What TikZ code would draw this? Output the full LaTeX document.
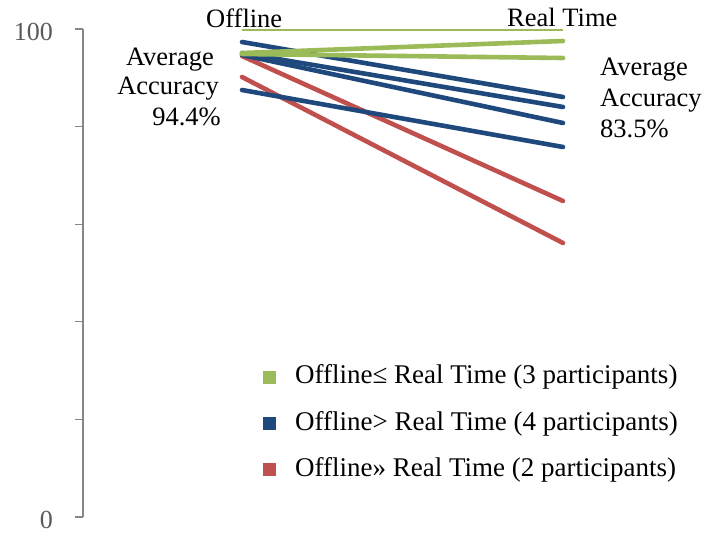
\documentclass[tikz,border=0pt]{standalone}
\usepackage{fontspec}
\setmainfont{Liberation Serif}
\definecolor{cgreen}{HTML}{9BBB59}
\definecolor{cblue}{HTML}{1F497D}
\definecolor{cred}{HTML}{C0504D}
\definecolor{caxis}{HTML}{868686}
\definecolor{ctick}{HTML}{595959}
\begin{document}
\begin{tikzpicture}[x=1pt,y=-1pt,
  txt/.style={inner sep=0pt, font=\fontsize{26.5}{30}\selectfont},
  legtxt/.style={inner sep=0pt, font=\fontsize{27}{30}\selectfont},
  ticklbl/.style={inner sep=0pt, text=ctick, font=\fontsize{26}{30}\selectfont},
  axisline/.style={draw=caxis, line width=1.3pt},
  dline/.style={line width=4.6pt, line cap=round},
  legsq/.style={minimum size=13pt, inner sep=0pt, draw=none}]
\useasboundingbox (0,0) rectangle (702,533);
% axis
\coordinate (atop) at (83,29);
\coordinate (abot) at (83,517);
\draw[axisline] (atop) -- (abot);
\foreach \y in {29,126.6,224.2,321.8,419.4,517}{
  \draw[axisline] (75,\y) -- (83,\y);
}
\node[ticklbl, anchor=base east] (l100) at (53,40) {100};
\node[ticklbl, anchor=base east] (l0) at (53,528) {0};
% headers
\node[txt, anchor=base west] (hoff) at (206,27) {Offline};
\node[txt, anchor=base west] (hrt) at (507,26) {Real Time};
\node[txt, anchor=base east] (la1) at (214,65) {Average};
\node[txt, anchor=base east] (la2) at (219,94) {Accuracy};
\node[txt, anchor=base east] (la3) at (221,125) {94.4\%};
\node[txt, anchor=base west] (ra1) at (600,75) {Average};
\node[txt, anchor=base west] (ra2) at (600,106) {Accuracy};
\node[txt, anchor=base west] (ra3) at (600,137) {83.5\%};
% endpoints
\coordinate (g1s) at (242,30);  \coordinate (g1e) at (563,30);
\coordinate (g2s) at (242,53);  \coordinate (g2e) at (563,41);
\coordinate (g3s) at (242,54);  \coordinate (g3e) at (563,58);
\coordinate (b1s) at (242,42);  \coordinate (b1e) at (563,97);
\coordinate (b2s) at (242,53);  \coordinate (b2e) at (563,107);
\coordinate (b3s) at (242,55);  \coordinate (b3e) at (563,123);
\coordinate (b4s) at (242,90);  \coordinate (b4e) at (563,147);
\coordinate (r1s) at (242,56);  \coordinate (r1e) at (563,201);
\coordinate (r2s) at (242,77);  \coordinate (r2e) at (563,243);
% lines
\draw[dline, cred] (r1s) -- (r1e);
\draw[dline, cred] (r2s) -- (r2e);
\draw[dline, cblue] (b1s) -- (b1e);
\draw[dline, cblue] (b2s) -- (b2e);
\draw[dline, cblue] (b3s) -- (b3e);
\draw[dline, cblue] (b4s) -- (b4e);
\draw[dline, cgreen] (g2s) -- (g2e);
\draw[dline, cgreen] (g3s) -- (g3e);
\draw[line width=2.5pt, cgreen] (g1s) -- (g1e);
% legend
\node[legsq, fill=cgreen] (sq1) at (269.5,377) {};
\node[legsq, fill=cblue] (sq2) at (269.5,423) {};
\node[legsq, fill=cred] (sq3) at (269.5,469) {};
\node[legtxt, anchor=base west] (lg1) at (295,383) {Offline≤ Real Time (3 participants)};
\node[legtxt, anchor=base west] (lg2) at (295,430) {Offline> Real Time (4 participants)};
\node[legtxt, anchor=base west] (lg3) at (295,476) {Offline» Real Time (2 participants)};
\end{tikzpicture}
\end{document}
